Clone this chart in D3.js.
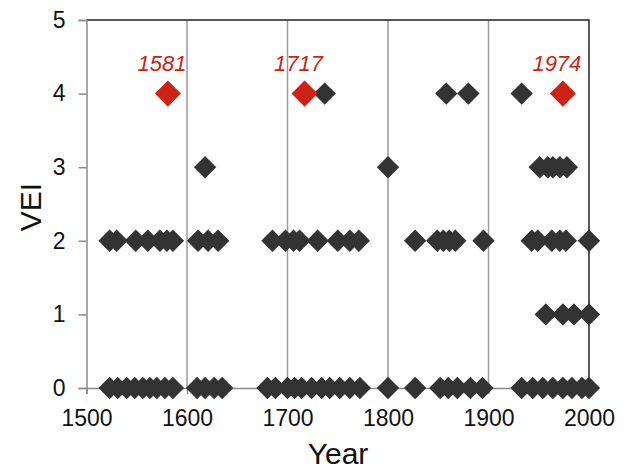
<!DOCTYPE html>
<html>
<head>
<meta charset="utf-8">
<script src="https://cdn.jsdelivr.net/npm/d3@7"></script>
<style>
  body { margin: 0; background: #fff; }
  text { font-family: "Liberation Sans", Arial, sans-serif; }
</style>
</head>
<body>
<div id="chart"></div>
<script>
/*global d3*/
// eruption years by VEI level
const vei0Years = [1523, 1531, 1540, 1548, 1556, 1563, 1570, 1578, 1586,
  1610, 1618, 1627, 1635,
  1680, 1688, 1700, 1707, 1714, 1724, 1734, 1742, 1752, 1762, 1772,
  1800, 1827, 1852, 1860, 1869, 1882, 1894,
  1933, 1944, 1954, 1964, 1974, 1983, 1993, 2000]
const vei1Years = [1957, 1974, 1985, 2000]
const vei2Years = [1523, 1530, 1549, 1561, 1573, 1580, 1586, 1611, 1621, 1631,
  1685, 1698, 1706, 1712, 1730, 1750, 1762, 1771,
  1827, 1849, 1855, 1861, 1867, 1895,
  1943, 1949, 1963, 1971, 1977, 2000]
const vei3Years = [1618, 1800, 1951, 1959, 1964, 1971, 1978]
const vei4Years = [1737, 1858, 1880, 1933]
// highlighted VEI 4 eruptions
const highlightYears = [1581, 1717, 1974]

const xTicks = [1500, 1600, 1700, 1800, 1900, 2000]
const yTicks = [0, 1, 2, 3, 4, 5]

const width = 626, height = 470
const margin = { top: 20, right: 37, bottom: 82, left: 86.5 }

const svg = d3.select("#chart").append("svg")
  .attr("width", width)
  .attr("height", height)

const x = d3.scaleLinear().domain([1500, 2000]).range([margin.left, width - margin.right])
const y = d3.scaleLinear().domain([0, 5]).range([height - margin.bottom, margin.top])

// gridlines at centuries
svg.append("g")
  .selectAll("line")
  .data(xTicks.slice(1, -1))
  .join("line")
  .attr("x1", d => x(d)).attr("x2", d => x(d))
  .attr("y1", y(0)).attr("y2", y(5))
  .style("stroke", "#9a9a9a")
  .style("stroke-width", 1.5)

// top + right frame (dark)
svg.append("path")
  .attr("d", `M${x(1500)},${y(5)}H${x(2000)}V${y(0)}`)
  .attr("fill", "none")
  .style("stroke", "#222")
  .style("stroke-width", 1.5)

// y axis
const yAxis = svg.append("g")
  .attr("transform", `translate(${x(1500)},0)`)
  .call(d3.axisLeft(y).tickValues(yTicks).tickSize(8).tickPadding(13).tickFormat(d3.format("d")))
yAxis.select(".domain").style("stroke", "#8a8a8a").style("stroke-width", 1.5)
yAxis.selectAll(".tick line").style("stroke", "#8a8a8a").style("stroke-width", 1.5)
yAxis.selectAll("text").style("font-size", "23px").attr("fill", "#111")

// x axis
const xAxis = svg.append("g")
  .attr("transform", `translate(0,${y(0)})`)
  .call(d3.axisBottom(x).tickValues(xTicks).tickSize(6).tickPadding(16).tickFormat(d3.format("d")))
xAxis.select(".domain").style("stroke", "#8a8a8a").style("stroke-width", 1.5)
xAxis.selectAll(".tick line").style("stroke", "#8a8a8a").style("stroke-width", 1.5)
xAxis.selectAll("text").style("font-size", "23px").attr("fill", "#111")

// axis titles
svg.append("text")
  .attr("transform", `translate(41,207) rotate(-90)`)
  .attr("text-anchor", "middle")
  .style("font-size", "30px")
  .attr("fill", "#111")
  .text("VEI")

svg.append("text")
  .attr("x", 338)
  .attr("y", 464)
  .attr("text-anchor", "middle")
  .style("font-size", "30px")
  .attr("fill", "#111")
  .text("Year")

// diamonds
const darkPoints = [
  ...vei0Years.map(d => ({ year: d, vei: 0 })),
  ...vei1Years.map(d => ({ year: d, vei: 1 })),
  ...vei2Years.map(d => ({ year: d, vei: 2 })),
  ...vei3Years.map(d => ({ year: d, vei: 3 })),
  ...vei4Years.map(d => ({ year: d, vei: 4 })),
]
const darkSymbol = d3.symbol().type(d3.symbolSquare).size(250)
const redSymbol = d3.symbol().type(d3.symbolSquare).size(340)

svg.append("g")
  .selectAll("path")
  .data(darkPoints)
  .join("path")
  .attr("d", darkSymbol)
  .attr("transform", d => `translate(${x(d.year)},${y(d.vei)}) rotate(45)`)
  .attr("fill", "#333")

svg.append("g")
  .selectAll("path")
  .data(highlightYears)
  .join("path")
  .attr("d", redSymbol)
  .attr("transform", d => `translate(${x(d)},${y(4)}) rotate(45)`)
  .attr("fill", "#cc2316")

svg.append("g")
  .selectAll("text")
  .data(highlightYears)
  .join("text")
  .attr("x", d => x(d) - 6)
  .attr("y", y(4) - 23)
  .attr("text-anchor", "middle")
  .style("font-size", "22px")
  .style("font-style", "italic")
  .attr("fill", "#cc2316")
  .text(d => d)
</script>
</body>
</html>
